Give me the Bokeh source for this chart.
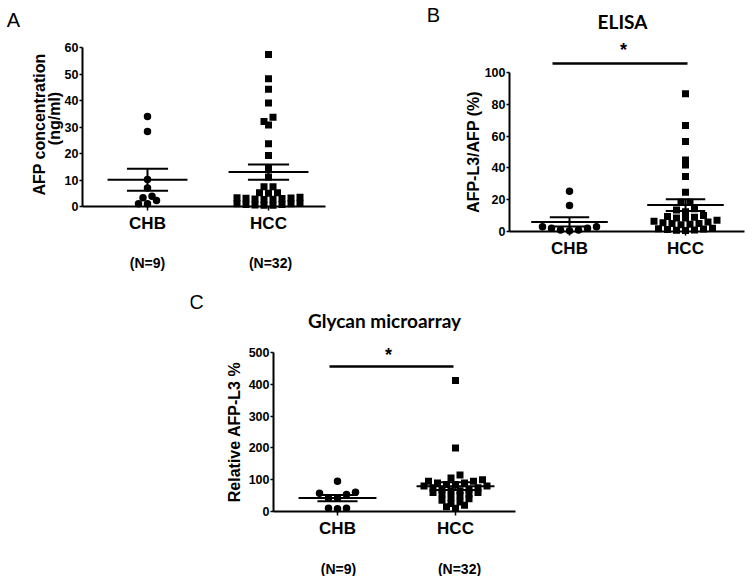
import numpy as np
from bokeh.plotting import figure
from bokeh.models import Range1d, FixedTicker, Label, Spacer
from bokeh.layouts import row, column
from bokeh.embed import file_html
from bokeh.resources import INLINE

FONT = "Liberation Sans"
TITLE_FONT = "Lato"

# ---------------- data ----------------
groups = ["CHB", "HCC"]
group_n = ["(N=9)", "(N=32)"]

afp_chb = [34.0, 28.3, 10.2, 7.0, 3.9, 3.3, 2.3, 1.0, 1.0]
afp_hcc = [57.4, 48.2, 44.2, 39.1, 33.7, 32.1, 30.8, 23.7, 19.2, 14.6, 11.1,
           7.5, 7.5, 5.2, 5.0, 5.2, 3.5, 3.3, 3.2, 3.1, 3.0, 2.8, 2.7, 2.6,
           1.2, 1.0, 1.0, 0.8, 0.8, 0.6, 0.5, 0.5]
afp_ticks = [0, 10, 20, 30, 40, 50, 60]

elisa_chb = [25.3, 16.4, 3.0, 2.0, 1.0, 0.5, 1.0, 2.0, 3.0]
elisa_hcc = [86.6, 66.7, 56.6, 45.0, 41.9, 34.6, 24.7, 18.4, 18.4,
             14.3, 13.5, 12.5, 10.0, 9.5, 9.0, 8.5, 8.5,
             7.0, 6.5, 6.0, 5.5, 5.0, 5.0, 4.5, 4.2,
             2.0, 1.8, 1.5, 1.2, 1.0, 0.8, 0.6]
elisa_ticks = [0, 20, 40, 60, 80, 100]

glycan_chb = [95.3, 60.7, 57.5, 53.5, 42.0, 42.0, 10.0, 9.0, 10.0]
glycan_hcc = [412, 200, 115, 105, 100, 95, 95, 90, 90, 85, 85, 80, 80, 75, 75,
              70, 70, 65, 65, 60, 60, 55, 55, 50, 45, 40, 35, 30, 25, 20, 15, 10]
glycan_ticks = [0, 100, 200, 300, 400, 500]


# ---------------- helpers ----------------
def swarm_offsets(vals, ppu, step_px=9.0, bin_px=6.5):
    """Deterministic Prism-like column scatter: points in the same vertical
    pixel band are spread symmetrically, lowest values nearest the centre."""
    vals = np.asarray(vals, float)
    bins = np.floor(vals * ppu / bin_px).astype(int)
    offs = np.zeros(len(vals))
    for b in np.unique(bins):
        idx = np.where(bins == b)[0]
        idx = idx[np.argsort(vals[idx], kind="stable")]
        n = len(idx)
        slots = sorted(np.arange(n) - (n - 1) / 2.0, key=lambda s: (abs(s), s))
        for j, i in enumerate(idx):
            offs[i] = slots[j] * step_px
    return offs


def make_panel(fig_left, fig_top, fig_w, fig_h, ax_left, ax_right, y0_px,
               cat1_px, cat2_px, axis_top_px, ticks, ylabel, ylabel_standoff,
               chb, hcc):
    """Whole figure is the frame; axes are pinned with fixed_location so that
    every text can sit anywhere on the canvas without being clipped."""
    ppu = (y0_px - axis_top_px) / ticks[-1]
    unit = cat2_px - cat1_px
    xd = lambda px: 1 + (px - cat1_px) / unit
    yd = lambda py: (y0_px - py) / ppu
    p = figure(width=fig_w, height=fig_h,
               x_range=Range1d(xd(fig_left), xd(fig_left + fig_w)),
               y_range=Range1d(yd(fig_top + fig_h), yd(fig_top)),
               output_backend="svg", toolbar_location=None,
               min_border=0, min_border_left=0, min_border_right=0,
               min_border_top=0, min_border_bottom=0)
    p.outline_line_color = None
    p.xgrid.visible = False
    p.ygrid.visible = False
    p.background_fill_color = "white"
    p.border_fill_color = "white"

    # y axis
    ya = p.yaxis[0]
    ya.fixed_location = xd(ax_left)
    ya.ticker = FixedTicker(ticks=ticks)
    ya.bounds = (ticks[0], ticks[-1])
    if ylabel:
        ya.axis_label = ylabel
    ya.axis_label_text_font = FONT
    ya.axis_label_text_font_style = "bold"
    ya.axis_label_text_font_size = "16px"
    ya.axis_label_text_color = "black"
    ya.axis_label_standoff = ylabel_standoff
    ya.major_label_text_font = FONT
    ya.major_label_text_font_style = "bold"
    ya.major_label_text_font_size = "12.5px"
    ya.major_label_text_color = "black"
    ya.major_label_standoff = 1
    ya.axis_line_width = 2
    ya.axis_line_color = "black"
    ya.major_tick_line_width = 1.5
    ya.major_tick_line_color = "black"
    ya.major_tick_out = 3
    ya.major_tick_in = 0
    ya.minor_tick_line_color = None

    # x axis (categories)
    xa = p.xaxis[0]
    xa.fixed_location = 0
    xa.bounds = (xd(ax_left), xd(ax_right))
    xa.ticker = FixedTicker(ticks=[1, 2])
    xa.major_label_overrides = {1: groups[0], 2: groups[1]}
    xa.major_label_text_font = FONT
    xa.major_label_text_font_style = "bold"
    xa.major_label_text_font_size = "17px"
    xa.major_label_text_color = "black"
    xa.major_label_standoff = 3
    xa.axis_line_width = 2
    xa.axis_line_color = "black"
    xa.major_tick_line_width = 1.5
    xa.major_tick_line_color = "black"
    xa.major_tick_out = 4
    xa.major_tick_in = 0
    xa.minor_tick_line_color = None

    # points
    for gi, (vals, marker, size) in enumerate([(chb, "circle", 7.5), (hcc, "square", 7)]):
        offs = swarm_offsets(vals, ppu) / unit
        xs = (gi + 1) + offs
        p.scatter(xs, vals, marker=marker, size=size, color="black", line_width=0)

    # mean +/- SEM
    x0s, y0s, x1s, y1s = [], [], [], []
    for gi, vals in enumerate([chb, hcc]):
        v = np.asarray(vals, float)
        m = v.mean()
        s = v.std(ddof=1) / np.sqrt(len(v))
        c = gi + 1
        segs = [(c - 0.33, m, c + 0.33, m),
                (c - 0.17, m + s, c + 0.17, m + s),
                (c - 0.17, m - s, c + 0.17, m - s),
                (c, m - s, c, m + s)]
        for a, b, cc, d in segs:
            x0s.append(a); y0s.append(b); x1s.append(cc); y1s.append(d)
    p.segment(x0s, y0s, x1s, y1s, line_color="black", line_width=2)
    return p, xd, yd


def add_text(p, x, y, text, size, bold=True, font=FONT, angle=0.0):
    p.add_layout(Label(x=x, y=y, text=text, text_font=font, angle=angle,
                       text_font_size=size, text_font_style="bold" if bold else "normal",
                       text_color="black", text_align="center", text_baseline="middle"))


ROW1_H = 285

# ---------------- panel A ----------------
pA, xdA, ydA = make_panel(0, 0, 380, ROW1_H, 82, 325, 206, 147, 268, 47,
                          afp_ticks, None, 0, afp_chb, afp_hcc)
add_text(pA, xdA(39), ydA(124), "AFP concentration", "16px", angle=np.pi / 2)
add_text(pA, xdA(54), ydA(118), "(ng/ml)", "16px", angle=np.pi / 2)
add_text(pA, xdA(13), ydA(19), "A", "20px", bold=False)
add_text(pA, xdA(147), ydA(262), group_n[0], "14px")
add_text(pA, xdA(270), ydA(262), group_n[1], "14px")

# ---------------- panel B ----------------
pB, xdB, ydB = make_panel(380, 0, 366, ROW1_H, 509, 744, 231, 569, 685, 72,
                          elisa_ticks, "AFP-L3/AFP (%)", 0, elisa_chb, elisa_hcc)
add_text(pB, xdB(433), ydB(14), "B", "20px", bold=False)
add_text(pB, xdB(622), ydB(21), "ELISA", "19px", font=TITLE_FONT)
add_text(pB, xdB(623), ydB(49), "*", "18px")
pB.line([xdB(552), xdB(687)], [ydB(63), ydB(63)], line_color="black", line_width=2.5)

# ---------------- panel C ----------------
pC, xdC, ydC = make_panel(190, ROW1_H, 355, 576 - ROW1_H, 273, 515, 511, 337, 455, 352,
                          glycan_ticks, "Relative AFP-L3 %", 3, glycan_chb, glycan_hcc)
add_text(pC, xdC(196), ydC(301), "C", "20px", bold=False)
add_text(pC, xdC(384), ydC(320), "Glycan microarray", "19px", font=TITLE_FONT)
add_text(pC, xdC(388), ydC(354), "*", "18px")
pC.line([xdC(329), xdC(453)], [ydC(366), ydC(366)], line_color="black", line_width=2.5)
add_text(pC, xdC(338), ydC(568), group_n[0], "14px")
add_text(pC, xdC(459), ydC(568), group_n[1], "14px")

layout = column(row(pA, pB), row(Spacer(width=190, height=576 - ROW1_H), pC))

open("out.html", "w").write(file_html(layout, INLINE))
